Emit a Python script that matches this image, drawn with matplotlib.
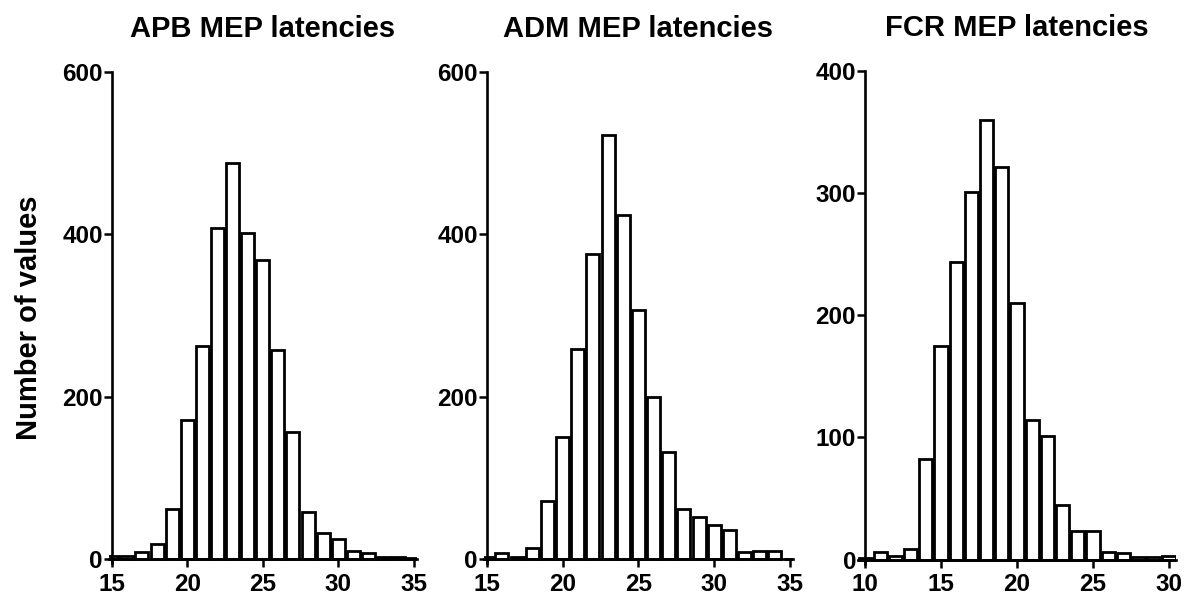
import numpy as np
import matplotlib
matplotlib.use("Agg")
import matplotlib.pyplot as plt

plt.rcParams['font.family'] = ['Liberation Sans', 'DejaVu Sans']
plt.rcParams['font.weight'] = 'bold'

# histogram bins (latency, ms) and counts
apb_bins = list(range(15, 36))
apb_counts = [4, 4, 8, 18, 62, 171, 262, 407, 488, 401, 368, 257, 156, 58, 32, 24, 10, 7, 3, 2, 1]

adm_bins = list(range(15, 36))
adm_counts = [3, 7, 3, 13, 71, 150, 259, 376, 522, 424, 307, 199, 132, 61, 52, 42, 36, 8, 10, 10, 0]

fcr_bins = list(range(10, 31))
fcr_counts = [1, 6, 3, 9, 82, 175, 244, 301, 360, 321, 210, 114, 101, 45, 23, 23, 6, 5, 2, 2, 3]

titles = ["APB MEP latencies", "ADM MEP latencies", "FCR MEP latencies"]
xticks = [[15, 20, 25, 30, 35], [15, 20, 25, 30, 35], [10, 15, 20, 25, 30]]
yticks = [[0, 200, 400, 600], [0, 200, 400, 600], [0, 100, 200, 300, 400]]
xlims = [(14.8, 35.2), (14.8, 35.2), (9.55, 30.45)]
ylims = [(-5, 600), (-5, 600), (-3.5, 400)]
x_start = [15, 15, 10]

fig = plt.figure(figsize=(11.87, 6.01), dpi=100)
boxes = [[0.0916, 0.0632, 0.2595, 0.8175],
         [0.4075, 0.0632, 0.2607, 0.8175],
         [0.7230, 0.0619, 0.2676, 0.8200]]

data = [(apb_bins, apb_counts), (adm_bins, adm_counts), (fcr_bins, fcr_counts)]

for i, (bins, counts) in enumerate(data):
    ax = fig.add_axes(boxes[i])
    ax.bar(bins, counts, width=0.86, color='white', edgecolor='black',
           linewidth=2.0, zorder=2)
    ax.set_xlim(*xlims[i])
    ax.set_ylim(*ylims[i])
    ax.spines['top'].set_visible(False)
    ax.spines['right'].set_visible(False)
    ax.spines['left'].set_position(('data', x_start[i]))
    ax.spines['bottom'].set_position(('data', 0))
    for s in ['left', 'bottom']:
        ax.spines[s].set_linewidth(1.9)
        ax.spines[s].set_zorder(3)
    ax.set_xticks(xticks[i])
    ax.set_yticks(yticks[i])
    ax.tick_params(width=1.8, length=6, labelsize=17.5)
    ax.tick_params(axis='y', pad=0.5)
    ax.tick_params(axis='x', pad=4)
    for lab in ax.get_xticklabels() + ax.get_yticklabels():
        lab.set_fontweight('bold')
    ax.set_title(titles[i], fontsize=21, fontweight='bold', pad=25)
    if i == 0:
        ax.set_ylabel("Number of values", fontsize=21, fontweight='bold', labelpad=14)

fig.savefig("out.png", dpi=100)
